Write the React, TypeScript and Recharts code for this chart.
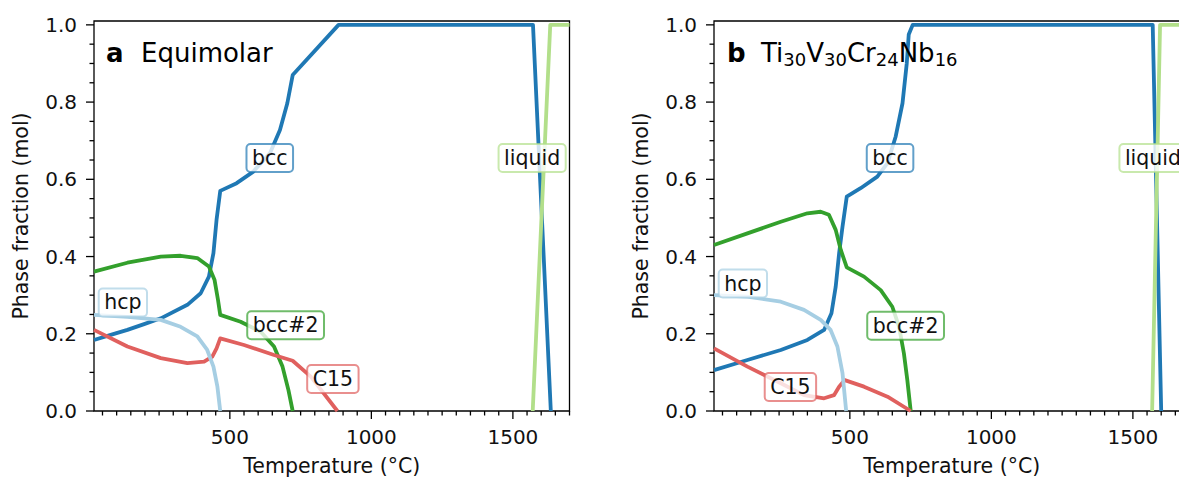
import React from "react";
import { LineChart, Line, XAxis, YAxis, ReferenceDot, ReferenceArea, Label } from "recharts";

const FONT = "DejaVu Sans, sans-serif";

// axis ticks (majors get a label)
const xTicks = [
  50, 100, 150, 200, 250, 300, 350, 400, 450, 500, 550, 600, 650, 700, 750, 800, 850,
  900, 950, 1000, 1050, 1100, 1150, 1200, 1250, 1300, 1350, 1400, 1450, 1500, 1550,
  1600, 1650, 1700,
];
const xMajor = [500, 1000, 1500];
const yTicks = [
  0, 0.05, 0.1, 0.15, 0.2, 0.25, 0.3, 0.35, 0.4, 0.45, 0.5, 0.55, 0.6, 0.65, 0.7, 0.75,
  0.8, 0.85, 0.9, 0.95, 1.0,
];
const yMajor = [0, 0.2, 0.4, 0.6, 0.8, 1.0];

// phase fractions, [temperature °C, fraction]
// a: equimolar
const bccA = [
  [20, 0.184], [79, 0.197], [138, 0.21], [197, 0.225], [256, 0.24], [350, 0.275], [397, 0.305],
  [426, 0.348], [442, 0.409], [453, 0.495], [466, 0.57], [524, 0.59], [583, 0.62], [642, 0.668],
  [677, 0.728], [703, 0.797], [722, 0.87], [884, 1.0], [1571, 1.0], [1634, 0],
];
const bcc2A = [
  [20, 0.361], [138, 0.384], [256, 0.4], [326, 0.402], [385, 0.396], [426, 0.374], [446, 0.339],
  [458, 0.288], [466, 0.249], [538, 0.231], [609, 0.205], [656, 0.167], [686, 0.115],
  [707, 0.054], [722, 0],
];
const c15A = [
  [20, 0.21], [138, 0.167], [256, 0.137], [350, 0.124], [409, 0.128], [438, 0.141], [453, 0.162],
  [466, 0.188], [550, 0.171], [656, 0.145], [722, 0.13], [786, 0.089], [880, 0],
];
const hcpA = [
  [20, 0.249], [138, 0.244], [256, 0.236], [326, 0.218], [385, 0.193], [420, 0.158], [442, 0.115],
  [456, 0.063], [466, 0],
];
const liquidA = [[1570, 0], [1632, 1.0], [1700, 1.0]];

// b: Ti30V30Cr24Nb16
const bccB = [
  [20, 0.106], [138, 0.132], [256, 0.158], [350, 0.184], [409, 0.21], [435, 0.253], [450, 0.322],
  [462, 0.408], [474, 0.477], [489, 0.555], [538, 0.577], [597, 0.607], [633, 0.642], [662, 0.711],
  [686, 0.797], [701, 0.9], [708, 0.975], [722, 1.0], [1570, 1.0], [1600, 0],
];
const bcc2B = [
  [20, 0.43], [138, 0.46], [256, 0.49], [350, 0.512], [397, 0.516], [426, 0.508], [450, 0.469],
  [468, 0.417], [489, 0.372], [550, 0.348], [609, 0.313], [650, 0.27], [674, 0.218], [691, 0.149],
  [703, 0.08], [715, 0],
];
const c15B = [
  [20, 0.162], [138, 0.115], [256, 0.072], [338, 0.041], [409, 0.033], [444, 0.041], [462, 0.063],
  [482, 0.08], [550, 0.063], [633, 0.037], [715, 0],
];
const hcpB = [
  [20, 0.3], [138, 0.296], [256, 0.283], [338, 0.262], [397, 0.236], [432, 0.21], [456, 0.167],
  [474, 0.098], [487, 0],
];
const liquidB = [[1568, 0], [1596, 1.0], [1700, 1.0]];

// line labels, [name, temperature, fraction]
const labelsA = [
  ["bcc", 641, 0.655], ["liquid", 1568, 0.655], ["hcp", 122, 0.281], ["bcc#2", 697, 0.222], ["C15", 864, 0.083],
];
const labelsB = [
  ["bcc", 642, 0.655], ["liquid", 1571, 0.655], ["hcp", 122, 0.33], ["bcc#2", 697, 0.221], ["C15", 290, 0.062],
];

const colors: Record<string, string> = {
  bcc: "#1f78b4",
  "bcc#2": "#33a02c",
  C15: "#e0605e",
  hcp: "#a6cee3",
  liquid: "#b2df8a",
};

const toRows = (pts: number[][]) => pts.map(([T, f]) => ({ T, f }));

// DejaVu Sans advances, used to size the label boxes
const ADV: Record<string, number> = {
  b: 0.635, c: 0.55, "#": 0.838, "2": 0.636, h: 0.634, p: 0.635, l: 0.278, i: 0.278,
  q: 0.635, u: 0.634, d: 0.635, C: 0.698, "1": 0.636, "5": 0.636,
};
const textWidth = (s: string, size: number) =>
  s.split("").reduce((w, ch) => w + (ADV[ch] ?? 0.6), 0) * size;

const XTick = ({ x, y, payload }: any) => {
  const v = payload.value;
  const major = xMajor.includes(v);
  return (
    <g>
      <line x1={x} x2={x} y1={y} y2={y + (major ? 8 : 4.5)} stroke="#000" strokeWidth={1.3} />
      {major && (
        <text x={x} y={y + 33} textAnchor="middle" fontSize={20} fill="#111" fontFamily={FONT}>
          {v}
        </text>
      )}
    </g>
  );
};

const YTick = ({ x, y, payload }: any) => {
  const v = payload.value;
  const major = yMajor.some((m) => Math.abs(m - v) < 1e-6);
  return (
    <g>
      <line x1={x} x2={x - (major ? 8 : 4.5)} y1={y} y2={y} stroke="#000" strokeWidth={1.3} />
      {major && (
        <text x={x - 17} y={y + 7} textAnchor="end" fontSize={20} fill="#111" fontFamily={FONT}>
          {v.toFixed(1)}
        </text>
      )}
    </g>
  );
};

const LabelBox = ({ cx, cy, name }: any) => {
  const w = textWidth(name, 20.5) + 11;
  const h = 28;
  const c = colors[name];
  return (
    <g>
      <rect
        x={cx - w / 2} y={cy - h / 2} width={w} height={h} rx={4}
        fill="#fff" fillOpacity={0.8} stroke={c} strokeOpacity={0.7} strokeWidth={2}
      />
      <text x={cx} y={cy + 7} textAnchor="middle" fontSize={20.5} fill="#111" fontFamily={FONT}>
        {name}
      </text>
    </g>
  );
};

const TitleA = ({ cx, cy }: any) => (
  <g fontFamily={FONT} fill="#000">
    <text x={cx + 12} y={cy + 41} fontSize={26} fontWeight="bold">a</text>
    <text x={cx + 47} y={cy + 41} fontSize={26}>Equimolar</text>
  </g>
);

const TitleB = ({ cx, cy }: any) => (
  <g fontFamily={FONT} fill="#000">
    <text x={cx + 13} y={cy + 41} fontSize={26} fontWeight="bold">b</text>
    <text x={cx + 47} y={cy + 41} fontSize={26}>
      Ti<tspan fontSize={18} dy={4}>30</tspan>
      <tspan dy={-4}>V</tspan><tspan fontSize={18} dy={4}>30</tspan>
      <tspan dy={-4}>Cr</tspan><tspan fontSize={18} dy={4}>24</tspan>
      <tspan dy={-4}>Nb</tspan><tspan fontSize={18} dy={4}>16</tspan>
    </text>
  </g>
);

interface PanelProps {
  series: [string, number[][]][];
  labels: (string | number)[][];
  Title: any;
}

function Panel({ series, labels, Title }: PanelProps) {
  return (
    <LineChart width={600} height={477} margin={{ top: 21, right: 30.5, bottom: 0, left: 0 }}>
      <XAxis
        type="number" dataKey="T" domain={[20, 1700]} ticks={xTicks} interval={0}
        height={66} tickSize={0} tickMargin={0} tickLine={false} axisLine={false} tick={<XTick />}
      >
        <Label
          value="Temperature (°C)" position="insideBottom" offset={4}
          style={{ fontSize: 20.5, fill: "#111", fontFamily: FONT }}
        />
      </XAxis>
      <YAxis
        type="number" domain={[0, 1.01]} ticks={yTicks} interval={0}
        width={94} tickSize={0} tickMargin={0} tickLine={false} axisLine={false} tick={<YTick />}
      >
        <Label
          value="Phase fraction (mol)" angle={-90} position="insideLeft" offset={21}
          style={{ fontSize: 20.5, fill: "#111", fontFamily: FONT, textAnchor: "middle" }}
        />
      </YAxis>
      {series.map(([name, pts]) => (
        <Line
          key={name} data={toRows(pts)} dataKey="f" type="linear" stroke={colors[name]}
          strokeWidth={3.8} dot={false} activeDot={false} isAnimationActive={false}
          strokeLinejoin="round"
        />
      ))}
      <ReferenceArea
        x1={20} x2={1700} y1={0} y2={1.01} fill="none" fillOpacity={0}
        stroke="#000" strokeWidth={1.3} ifOverflow="visible"
      />
      {labels.map(([name, T, f]) => (
        <ReferenceDot
          key={name as string} x={T as number} y={f as number} r={0} ifOverflow="visible"
          shape={(p: any) => <LabelBox cx={p.cx} cy={p.cy} name={name} />}
        />
      ))}
      <ReferenceDot
        x={20} y={1.01} r={0} ifOverflow="visible"
        shape={(p: any) => <Title cx={p.cx} cy={p.cy} />}
      />
    </LineChart>
  );
}

const seriesA: [string, number[][]][] = [
  ["bcc", bccA], ["bcc#2", bcc2A], ["C15", c15A], ["hcp", hcpA], ["liquid", liquidA],
];
const seriesB: [string, number[][]][] = [
  ["bcc", bccB], ["bcc#2", bcc2B], ["C15", c15B], ["hcp", hcpB], ["liquid", liquidB],
];

export default function App() {
  return (
    <div
      style={{
        position: "absolute", left: 0, top: 0, width: 1179, height: 477,
        overflow: "hidden", background: "#fff", fontFamily: FONT,
      }}
    >
      <div style={{ position: "absolute", left: 0, top: 0 }}>
        <Panel series={seriesA} labels={labelsA} Title={TitleA} />
      </div>
      <div style={{ position: "absolute", left: 620, top: 0 }}>
        <Panel series={seriesB} labels={labelsB} Title={TitleB} />
      </div>
    </div>
  );
}
